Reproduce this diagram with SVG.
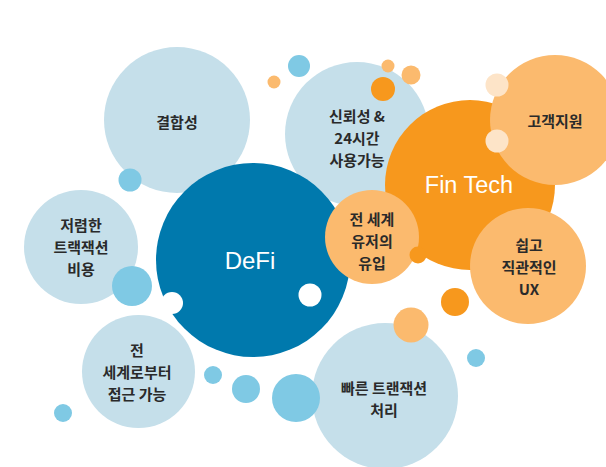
<svg xmlns="http://www.w3.org/2000/svg" width="606" height="467" viewBox="0 0 606 467">
<style>
.lb{fill:#C5DFEA}
.mb{fill:#7FC9E4}
.db{fill:#0079AD}
.or{fill:#F7981D}
.lo{fill:#FBBA6E}
.cr{fill:#FDE4C8}
.wh{fill:#FFFFFF}
.t{font-family:"Noto Sans CJK KR","Noto Sans",sans-serif;font-weight:700;font-size:15px;fill:#2A2A2A;text-anchor:middle;dominant-baseline:central}
.w{font-family:"Liberation Sans","Noto Sans",sans-serif;font-size:24px;fill:#FFFFFF;text-anchor:middle;dominant-baseline:central}
</style>
<rect width="606" height="467" fill="#FFFFFF"/>
<g id="node-gyeolhapseong">
<circle class="lb" cx="177" cy="120" r="73"/>
<text class="t" x="177" y="121">결합성</text>
</g>
<g id="deco-1"><circle class="mb" cx="130" cy="180" r="11.5"/><circle class="mb" cx="299" cy="66" r="11"/><circle class="lo" cx="274" cy="82" r="6.5"/></g>
<g id="node-trust">
<circle class="lb" cx="357" cy="134" r="72"/>
<text class="t"><tspan x="357" y="115">신뢰성 &amp;</tspan><tspan x="357" y="137">24시간</tspan><tspan x="357" y="159">사용가능</tspan></text>
</g>
<g id="deco-2"><circle class="or" cx="383" cy="89" r="12"/><circle class="lo" cx="388" cy="66" r="6.5"/><circle class="lo" cx="411" cy="75" r="9.5"/></g>
<g id="node-lowcost">
<circle class="lb" cx="81" cy="247" r="57"/>
<text class="t"><tspan x="81" y="224">저렴한</tspan><tspan x="81" y="246">트랙잭션</tspan><tspan x="81" y="268">비용</tspan></text>
</g>
<g id="deco-3"><circle class="mb" cx="132" cy="286" r="20"/></g>
<g id="node-defi">
<circle class="db" cx="253" cy="260" r="97"/>
<text class="w" x="250" y="260">DeFi</text>
</g>
<g id="deco-4"><circle class="wh" cx="172" cy="303" r="11"/><circle class="wh" cx="310" cy="295" r="11.5"/></g>
<g id="node-fintech">
<circle class="or" cx="470" cy="185" r="85"/>
<text class="w" x="469" y="185" style="font-size:23.5px">Fin Tech</text>
</g>
<g id="node-support">
<circle class="lo" cx="555" cy="120" r="65"/>
<text class="t" x="555" y="120">고객지원</text>
</g>
<g id="deco-5"><circle class="cr" cx="497" cy="85" r="11.5"/><circle class="cr" cx="497" cy="141" r="11.5"/></g>
<g id="node-ux">
<circle class="lo" cx="528" cy="266" r="58"/>
<text class="t"><tspan x="529" y="244">쉽고</tspan><tspan x="529" y="266">직관적인</tspan><tspan x="529" y="288">UX</tspan></text>
</g>
<g id="node-inflow">
<circle class="lo" cx="372" cy="237" r="47"/>
<text class="t"><tspan x="372" y="218">전 세계</tspan><tspan x="372" y="240">유저의</tspan><tspan x="372" y="262">유입</tspan></text>
</g>
<g id="deco-6"><circle class="or" cx="418" cy="255" r="8.5"/><circle class="or" cx="455" cy="302" r="14"/></g>
<g id="node-access">
<circle class="lb" cx="138.5" cy="371.5" r="56.5"/>
<text class="t"><tspan x="137" y="349">전</tspan><tspan x="137" y="371">세계로부터</tspan><tspan x="137" y="393">접근 가능</tspan></text>
</g>
<g id="node-fast">
<circle class="lb" cx="385" cy="396" r="73"/>
<text class="t"><tspan x="384" y="387">빠른 트랜잭션</tspan><tspan x="384" y="409">처리</tspan></text>
</g>
<g id="deco-7"><circle class="mb" cx="63" cy="413" r="9"/><circle class="mb" cx="213" cy="375" r="9"/><circle class="mb" cx="246" cy="389" r="14"/><circle class="mb" cx="296" cy="398" r="24"/><circle class="mb" cx="476" cy="358" r="9"/><circle class="lo" cx="411" cy="325" r="17.5"/></g>
<g id="connectors"/>
</svg>
